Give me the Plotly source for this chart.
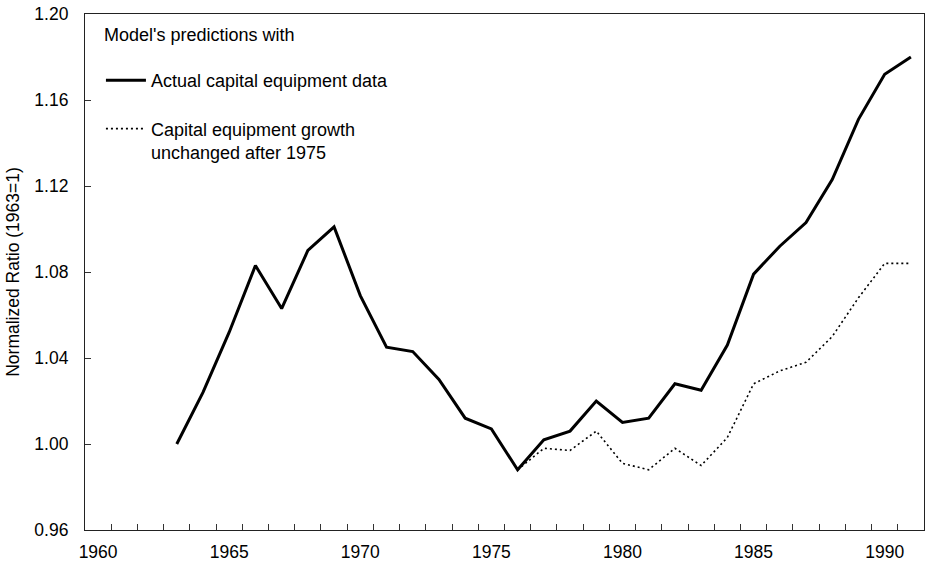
import plotly.graph_objects as go

years_actual = list(range(1963, 1992))
actual = [1.000, 1.024, 1.052, 1.083, 1.063, 1.090, 1.101, 1.069, 1.045, 1.043,
          1.030, 1.012, 1.007, 0.988, 1.002, 1.006, 1.020, 1.010, 1.012, 1.028,
          1.025, 1.046, 1.079, 1.092, 1.103, 1.123, 1.151, 1.172, 1.180]

years_fixed = list(range(1976, 1992))
fixed = [0.988, 0.998, 0.997, 1.006, 0.991, 0.988, 0.998, 0.990,
         1.003, 1.028, 1.034, 1.038, 1.050, 1.068, 1.084, 1.084]

x_tick_vals = [1960, 1965, 1970, 1975, 1980, 1985, 1990]
x_minor_vals = [y + 0.5 for y in range(1960, 1991)]
y_tick_vals = [0.96, 1.00, 1.04, 1.08, 1.12, 1.16, 1.20]
y_tick_text = ["0.96", "1.00", "1.04", "1.08", "1.12", "1.16", "1.20"]

legend_title = "Model's predictions with"
name_actual = "Actual capital equipment data"
name_fixed = "Capital equipment growth<br>unchanged after 1975"

FONT = "Liberation Sans, Arial, Helvetica, sans-serif"

fig = go.Figure()
fig.add_trace(go.Scatter(x=years_actual, y=actual, mode="lines", name=name_actual,
                         legendgroup="a",
                         line=dict(color="black", width=3)))
fig.add_trace(go.Scatter(x=years_fixed, y=fixed, mode="lines", name=name_fixed,
                         legendgroup="b",
                         line=dict(color="black", width=1.6, dash="2px,3px")))

fig.add_annotation(text=legend_title, xref="paper", yref="paper",
                   x=0.0203, y=0.959, xanchor="left", yanchor="middle",
                   showarrow=False, font=dict(size=18))

fig.update_layout(
    width=926, height=566,
    margin=dict(l=85, r=2, t=14, b=36),
    paper_bgcolor="white", plot_bgcolor="white",
    font=dict(family=FONT, size=17.5, color="black"),
    showlegend=True,
    legend=dict(
        x=0.019, y=0.907, xanchor="left", yanchor="top",
        bgcolor="rgba(0,0,0,0)", font=dict(size=18),
        tracegroupgap=22, valign="top", itemwidth=40,
    ),
    xaxis=dict(
        range=[1959.5, 1991.5], tickmode="array", tickvals=x_tick_vals,
        ticks="", showgrid=False, zeroline=False,
        showline=True, linecolor="#222", linewidth=1.2, mirror=True,
        ticklabelstandoff=6,
        minor=dict(tickmode="array", tickvals=x_minor_vals, ticks="inside",
                   ticklen=6, tickcolor="#333", tickwidth=1, showgrid=False),
    ),
    yaxis=dict(
        range=[0.96, 1.20], tickmode="array", tickvals=y_tick_vals, ticktext=y_tick_text,
        ticks="inside", ticklen=6, tickcolor="#333", tickwidth=1,
        showgrid=False, zeroline=False,
        showline=True, linecolor="#222", linewidth=1.2, mirror=True,
        ticklabelstandoff=12,
        title=dict(text="Normalized Ratio (1963=1)", font=dict(size=17.5), standoff=10),
    ),
)

fig.write_html("out.html", config={"displayModeBar": False},
               post_script="document.body.style.margin='0';")
